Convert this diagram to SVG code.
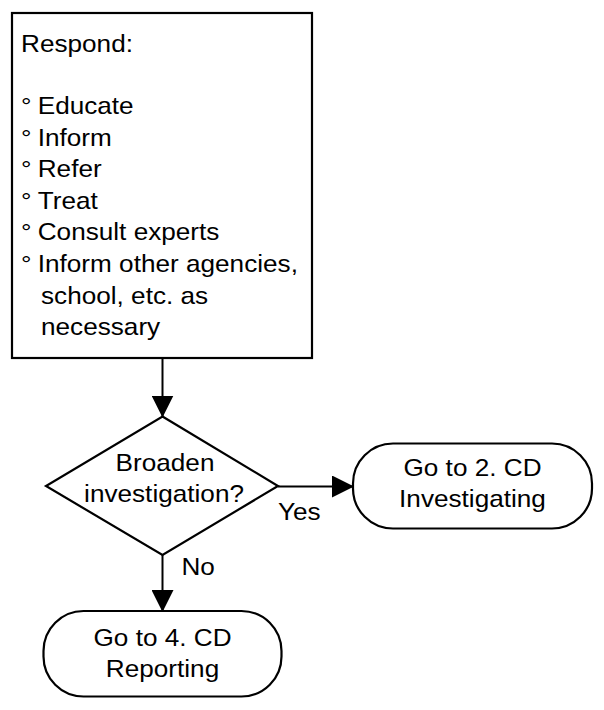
<svg xmlns="http://www.w3.org/2000/svg" width="604" height="710" viewBox="0 0 604 710">
<style>
.s{fill:#fff;stroke:#000;stroke-width:2.2}
.t{font-family:"Liberation Sans",Arial,sans-serif;font-size:24px;fill:#000}
.c{text-anchor:middle}
.e{fill:none;stroke:#000;stroke-width:2}
</style>
<defs>
<marker id="a" markerUnits="userSpaceOnUse" markerWidth="22" markerHeight="22" viewBox="0 0 22 22" refX="21" refY="11" orient="auto">
<path d="M0,0 L22,11 L0,22 Z" fill="#000"/>
</marker>
</defs>
<rect width="604" height="710" fill="#fff"/>
<g id="respond">
<rect class="s" x="12" y="13" width="300" height="345"/>
<g class="t" transform="scale(1.09 1)">
<text x="19.3" y="52">Respond:</text>
<text x="19.3" y="114">°</text><text x="34.6" y="114">Educate</text>
<text x="19.3" y="146">°</text><text x="34.6" y="146">Inform</text>
<text x="19.3" y="177.5">°</text><text x="34.6" y="177.5">Refer</text>
<text x="19.3" y="209">°</text><text x="34.6" y="209">Treat</text>
<text x="19.3" y="240.5">°</text><text x="34.6" y="240.5">Consult experts</text>
<text x="19.3" y="272">°</text><text x="34.6" y="272">Inform other agencies,</text>
<text x="37.6" y="304">school, etc. as</text>
<text x="37.6" y="335.5">necessary</text>
</g>
</g>
<g id="decision">
<path class="s" d="M162.5,416.5 L278,486 L162.5,555 L46,486 Z"/>
<g class="t c" transform="scale(1.09 1)">
<text x="151.4" y="471">Broaden</text>
<text x="150.5" y="502">investigation?</text>
</g>
</g>
<g id="investigating">
<rect class="s" x="353" y="443.5" width="239" height="85" rx="40" ry="40"/>
<g class="t c" transform="scale(1.09 1)">
<text x="433.5" y="476">Go to 2. CD</text>
<text x="433.5" y="507">Investigating</text>
</g>
</g>
<g id="reporting">
<rect class="s" x="43.5" y="611" width="238" height="85.5" rx="40" ry="40"/>
<g class="t c" transform="scale(1.09 1)">
<text x="149.1" y="646">Go to 4. CD</text>
<text x="149.1" y="677">Reporting</text>
</g>
</g>
<g id="connectors">
<line class="e" x1="162.5" y1="358" x2="162.5" y2="416.5" marker-end="url(#a)"/>
<line class="e" x1="278" y1="486.5" x2="353" y2="486.5" marker-end="url(#a)"/>
<line class="e" x1="162.5" y1="555" x2="162.5" y2="611" marker-end="url(#a)"/>
<g class="t" transform="scale(1.09 1)">
<text x="255" y="520">Yes</text>
<text x="166.5" y="575">No</text>
</g>
</g>
</svg>
